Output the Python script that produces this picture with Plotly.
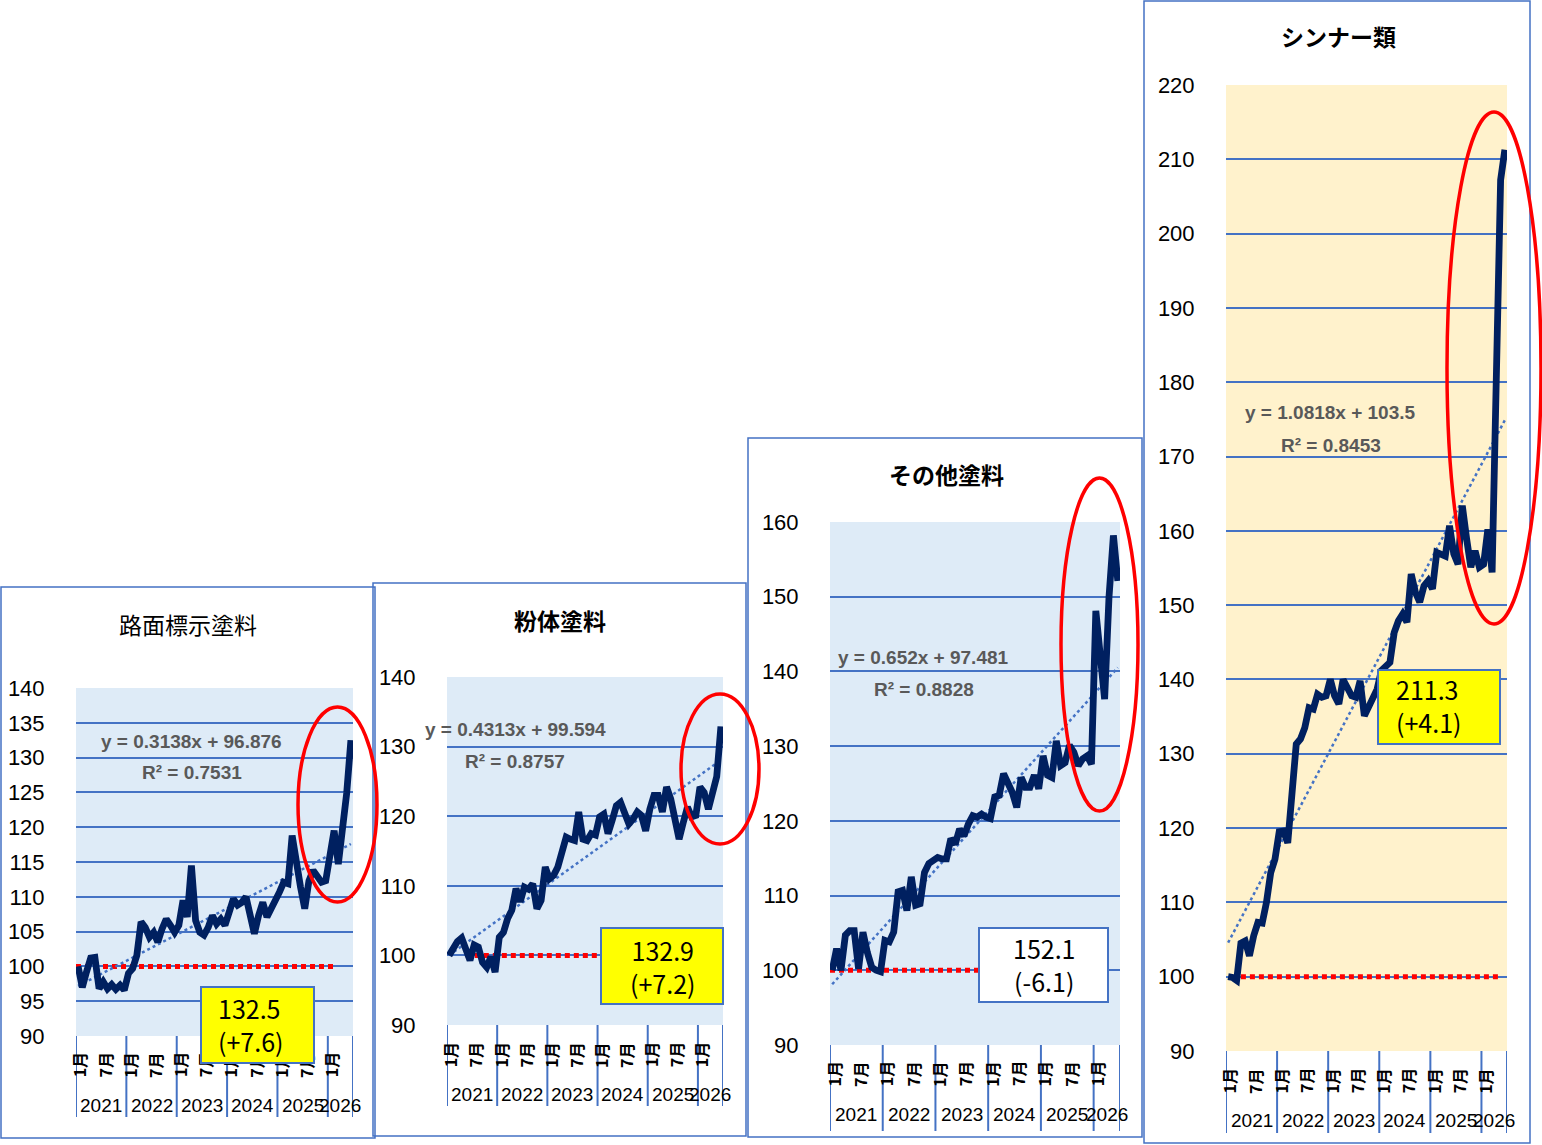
import plotly.graph_objects as go

W, H = 1542, 1145

# ---------------- data ----------------
years = ["2021", "2022", "2023", "2024", "2025", "2026"]
month_labels = ["1月", "7月"]
titles = ["路面標示塗料", "粉体塗料", "その他塗料", "シンナー類"]

road = [100.0, 97.0, 99.2, 101.2, 101.3, 96.8, 97.8, 96.8, 97.4, 96.7, 97.3, 96.6,
        99.0, 99.7, 101.6, 106.4, 105.6, 104.2, 104.9, 103.5, 105.4, 106.8, 105.9, 104.9,
        105.9, 109.5, 107.1, 114.5, 106.6, 104.9, 104.5, 105.6, 107.3, 106.1, 106.8, 105.9,
        107.8, 109.7, 108.8, 109.2, 110.0, 107.6, 104.7, 107.3, 109.2, 107.1, 108.3, 109.0,
        110.7, 112.1, 111.9, 118.8, 114.7, 111.4, 108.3, 112.3, 113.8, 113.1, 112.1, 112.3,
        115.7, 119.5, 114.7, 120.0, 124.9, 132.5]

powder = [100.0, 101.0, 102.0, 102.5, 101.0, 99.3, 101.5, 101.2, 99.0, 98.3, 99.8, 97.6,
          102.6, 103.3, 105.3, 106.5, 109.6, 107.7, 109.8, 109.5, 110.3, 106.7, 107.9, 112.7,
          111.0, 111.5, 112.7, 114.8, 117.0, 116.7, 116.5, 120.6, 116.7, 116.5, 117.5, 117.3,
          119.9, 120.3, 117.5, 119.4, 121.5, 122.0, 120.1, 118.9, 119.6, 120.6, 120.1, 117.9,
          121.0, 123.0, 123.0, 120.6, 124.2, 122.5, 119.6, 116.7, 119.1, 121.3, 119.9, 120.1,
          124.2, 123.4, 121.0, 123.0, 125.7, 132.9]

other = [100.0, 102.9, 100.0, 104.7, 105.3, 105.3, 100.2, 105.1, 102.4, 100.4, 100.0, 99.8,
         104.0, 103.8, 105.1, 110.5, 110.7, 108.0, 112.5, 108.7, 108.9, 113.1, 114.3, 114.7,
         115.1, 114.9, 114.9, 117.6, 116.9, 118.9, 118.0, 119.6, 120.7, 120.5, 120.9, 120.5,
         120.3, 123.2, 123.4, 126.3, 125.2, 123.8, 121.8, 125.8, 124.5, 124.5, 126.1, 124.3,
         128.7, 126.1, 125.8, 130.7, 127.4, 127.8, 130.1, 129.2, 127.4, 128.3, 128.7, 127.6,
         148.1, 142.5, 136.3, 150.0, 158.2, 152.1]

thinner = [100.0, 99.9, 99.5, 104.5, 104.8, 102.8, 105.5, 107.3, 107.2, 110.0, 114.0, 115.8,
           119.5, 119.6, 118.0, 125.0, 131.3, 132.0, 133.5, 136.2, 136.0, 138.0, 137.6, 137.8,
           140.0, 137.8, 136.7, 140.0, 138.7, 137.8, 137.6, 139.8, 135.1, 136.2, 137.4, 138.7,
           141.2, 141.8, 142.3, 146.3, 147.9, 148.8, 147.7, 154.2, 151.7, 150.4, 152.6, 153.3,
           152.2, 157.1, 156.9, 156.6, 160.7, 156.9, 155.5, 163.4, 159.0, 155.1, 157.3, 155.1,
           155.5, 160.2, 154.4, 181.0, 207.2, 211.3]

series = [road, powder, other, thinner]

trend_slope = [0.3138, 0.4313, 0.652, 1.0818]
trend_icpt = [96.876, 99.594, 97.481, 103.5]
trend_eq = ["y = 0.3138x + 96.876", "y = 0.4313x + 99.594",
            "y = 0.652x + 97.481", "y = 1.0818x + 103.5"]
r2_text = ["R² = 0.7531", "R² = 0.8757", "R² = 0.8828", "R² = 0.8453"]
last_val = ["132.5", "132.9", "152.1", "211.3"]
last_diff = ["(+7.6)", "(+7.2)", "(-6.1)", "(+4.1)"]

y_min = [90, 90, 90, 90]
y_max = [140, 140, 160, 220]
y_step = [5, 10, 10, 10]
base_level = 100
base_from = [-0.5, 4, -0.5, 3]
base_to = [61, 65.5, 34, 64]

# ---------------- layout geometry (pixels) ----------------
panels = [
    dict(plot=(76, 353, 688, 1036), border=(1, 587, 375, 1138), title=(188, 624), bold=False,
         eq=(191.5, 741, 192, 772), box=(201, 987, 314, 1063), boxfill="#FFFF00",
         boxtext=(216, 1024, "left"), ellipse=(298, 707, 377, 902),
         month_y=1065, year_y=1105, sep_bottom=1117, bg="#DEEBF7"),
    dict(plot=(447, 723, 677, 1025), border=(373, 583, 746, 1136), title=(560, 620), bold=True,
         eq=(515, 729, 515, 761), box=(601, 928, 723, 1004), boxfill="#FFFF00",
         boxtext=(662, 966, "center"), ellipse=(681, 694, 759, 844),
         month_y=1055, year_y=1094, sep_bottom=1106, bg="#DEEBF7"),
    dict(plot=(830, 1120, 522, 1045), border=(748, 438, 1142, 1137), title=(946, 474), bold=True,
         eq=(923, 657, 923.5, 689), box=(979, 928, 1108, 1002), boxfill="#FFFFFF",
         boxtext=(1044, 964, "center"), ellipse=(1061, 478, 1138, 811),
         month_y=1074, year_y=1114, sep_bottom=1131, bg="#DEEBF7"),
    dict(plot=(1226, 1507, 85, 1051), border=(1144, 1, 1530, 1143), title=(1338, 36), bold=True,
         eq=(1330.5, 413, 1331, 445), box=(1378, 670, 1500, 744), boxfill="#FFFF00",
         boxtext=(1394, 706, "left"), ellipse=(1447, 112, 1541, 624),
         month_y=1081, year_y=1120, sep_bottom=1133, bg="#FFF2CC"),
]


def fx(x):
    return x / W


def fy(y):
    return 1 - y / H


BLUE = "#4472C4"
NAVY = "#002060"
TICKFONT = dict(family="Liberation Sans, Arial", size=22, color="black")

fig = go.Figure()
layout = dict(width=W, height=H, margin=dict(l=0, r=0, t=0, b=0, pad=0, autoexpand=False),
              paper_bgcolor="white", plot_bgcolor="rgba(0,0,0,0)", showlegend=False)
shapes = []
month_annots = []
text_annots = []
box_annots = []

# panel borders first
for p in panels:
    x0, y0, x1, y1 = p["border"]
    shapes.append(dict(type="rect", xref="paper", yref="paper",
                       x0=fx(x0), x1=fx(x1), y0=fy(y0), y1=fy(y1),
                       line=dict(color=BLUE, width=1.5), layer="below"))

for k, (p, vals) in enumerate(zip(panels, series)):
    sfx = "" if k == 0 else str(k + 1)
    xa, ya = "x" + sfx, "y" + sfx
    n = len(vals)
    xs = list(range(n))
    px0, px1, pyt, pyb = p["plot"]

    layout["xaxis" + sfx] = dict(domain=[fx(px0), fx(px1)], anchor=ya, range=[-0.5, n - 0.5],
                                 showgrid=False, zeroline=False, showline=False,
                                 showticklabels=False, ticks="", fixedrange=True,
                                 automargin=False)
    layout["yaxis" + sfx] = dict(domain=[fy(pyb), fy(pyt)], anchor=xa,
                                 range=[y_min[k], y_max[k]], dtick=y_step[k], tick0=y_min[k],
                                 showgrid=True, gridcolor=BLUE, gridwidth=1.8,
                                 zeroline=False, showline=False, ticks="outside",
                                 ticklen=26, tickcolor="rgba(0,0,0,0)",
                                 tickfont=TICKFONT, fixedrange=True, automargin=False)
    # plot-area background
    shapes.append(dict(type="rect", xref=xa + " domain", yref=ya + " domain",
                       x0=0, x1=1, y0=0, y1=1, fillcolor=p["bg"],
                       line=dict(width=0), layer="below"))

    # baseline 100
    fig.add_trace(go.Scatter(x=[base_from[k], base_to[k]], y=[base_level, base_level],
                             mode="lines", xaxis=xa, yaxis=ya,
                             line=dict(color="#FF0000", width=5, dash="5px,4px"),
                             hoverinfo="skip"))
    # trend line
    trend = [trend_slope[k] * (i + 1) + trend_icpt[k] for i in xs]
    fig.add_trace(go.Scatter(x=xs, y=trend, mode="lines", xaxis=xa, yaxis=ya,
                             line=dict(color=BLUE, width=2.5, dash="dot"), hoverinfo="skip"))
    # main series
    fig.add_trace(go.Scatter(x=xs, y=vals, mode="lines", xaxis=xa, yaxis=ya,
                             line=dict(color=NAVY, width=6.8)))

    # year separators
    seps = [-0.5] + [12 * j - 0.5 for j in range(1, len(years))] + [n - 0.5]
    for s in seps:
        shapes.append(dict(type="line", xref=xa, yref="paper", x0=s, x1=s,
                           y0=fy(pyb), y1=fy(p["sep_bottom"]),
                           line=dict(color=BLUE, width=2)))

    # month labels
    for i in range(0, n, 6):
        month_annots.append(dict(xref=xa, yref="paper", x=i + 0.3, y=fy(p["month_y"]),
                                 text="<b>" + month_labels[(i // 6) % 2] + "</b>",
                                 showarrow=False, textangle=-90,
                                 xanchor="center", yanchor="middle",
                                 font=dict(family="Noto Sans CJK JP", size=16, color="black")))
    # year labels
    for j, yr in enumerate(years):
        a = 12 * j
        b = min(12 * j + 11, n - 1)
        month_annots.append(dict(xref=xa, yref="paper", x=(a + b) / 2, y=fy(p["year_y"]),
                                 text=yr, showarrow=False, xanchor="center", yanchor="middle",
                                 font=dict(family="Liberation Sans, Arial", size=19,
                                           color="black")))

    # title
    tx, ty = p["title"]
    ttl = f"<b>{titles[k]}</b>" if p["bold"] else titles[k]
    text_annots.append(dict(xref="paper", yref="paper", x=fx(tx), y=fy(ty), text=ttl,
                            showarrow=False, xanchor="center", yanchor="middle",
                            font=dict(family="Noto Sans CJK JP", size=23, color="black")))
    # trend equation
    e1x, e1y, e2x, e2y = p["eq"]
    for (ex, ey, et) in [(e1x, e1y, trend_eq[k]), (e2x, e2y, r2_text[k])]:
        text_annots.append(dict(xref="paper", yref="paper", x=fx(ex), y=fy(ey),
                                text=f"<b>{et}</b>", showarrow=False,
                                xanchor="center", yanchor="middle",
                                font=dict(family="Liberation Sans, Arial", size=19,
                                          color="#595959")))
    # value box
    bx0, by0, bx1, by1 = p["box"]
    box_annots.append(dict(xref="paper", yref="paper", x=fx((bx0 + bx1) / 2),
                           y=fy((by0 + by1) / 2), text=" ", showarrow=False,
                           xanchor="center", yanchor="middle",
                           width=bx1 - bx0 - 2, height=by1 - by0 - 2,
                           bgcolor=p["boxfill"], bordercolor=BLUE, borderwidth=2, borderpad=0))
    btx, bty, balign = p["boxtext"]
    box_annots.append(dict(xref="paper", yref="paper", x=fx(btx), y=fy(bty),
                           text=f"{last_val[k]}<br>{last_diff[k]}", showarrow=False,
                           xanchor=balign, yanchor="middle", align=balign,
                           font=dict(family="Noto Sans CJK JP", size=25, color="black")))

    # red ellipse
    ex0, ey0, ex1, ey1 = p["ellipse"]
    shapes.append(dict(type="circle", xref="paper", yref="paper",
                       x0=fx(ex0), x1=fx(ex1), y0=fy(ey0), y1=fy(ey1),
                       line=dict(color="#FF0000", width=3.5), layer="above"))

layout["shapes"] = shapes
layout["annotations"] = month_annots + text_annots + box_annots
fig.update_layout(**layout)
fig.write_html("out.html", config={"displayModeBar": False},
               post_script="document.body.style.margin='0px';"
                           "document.body.style.overflow='hidden';")
